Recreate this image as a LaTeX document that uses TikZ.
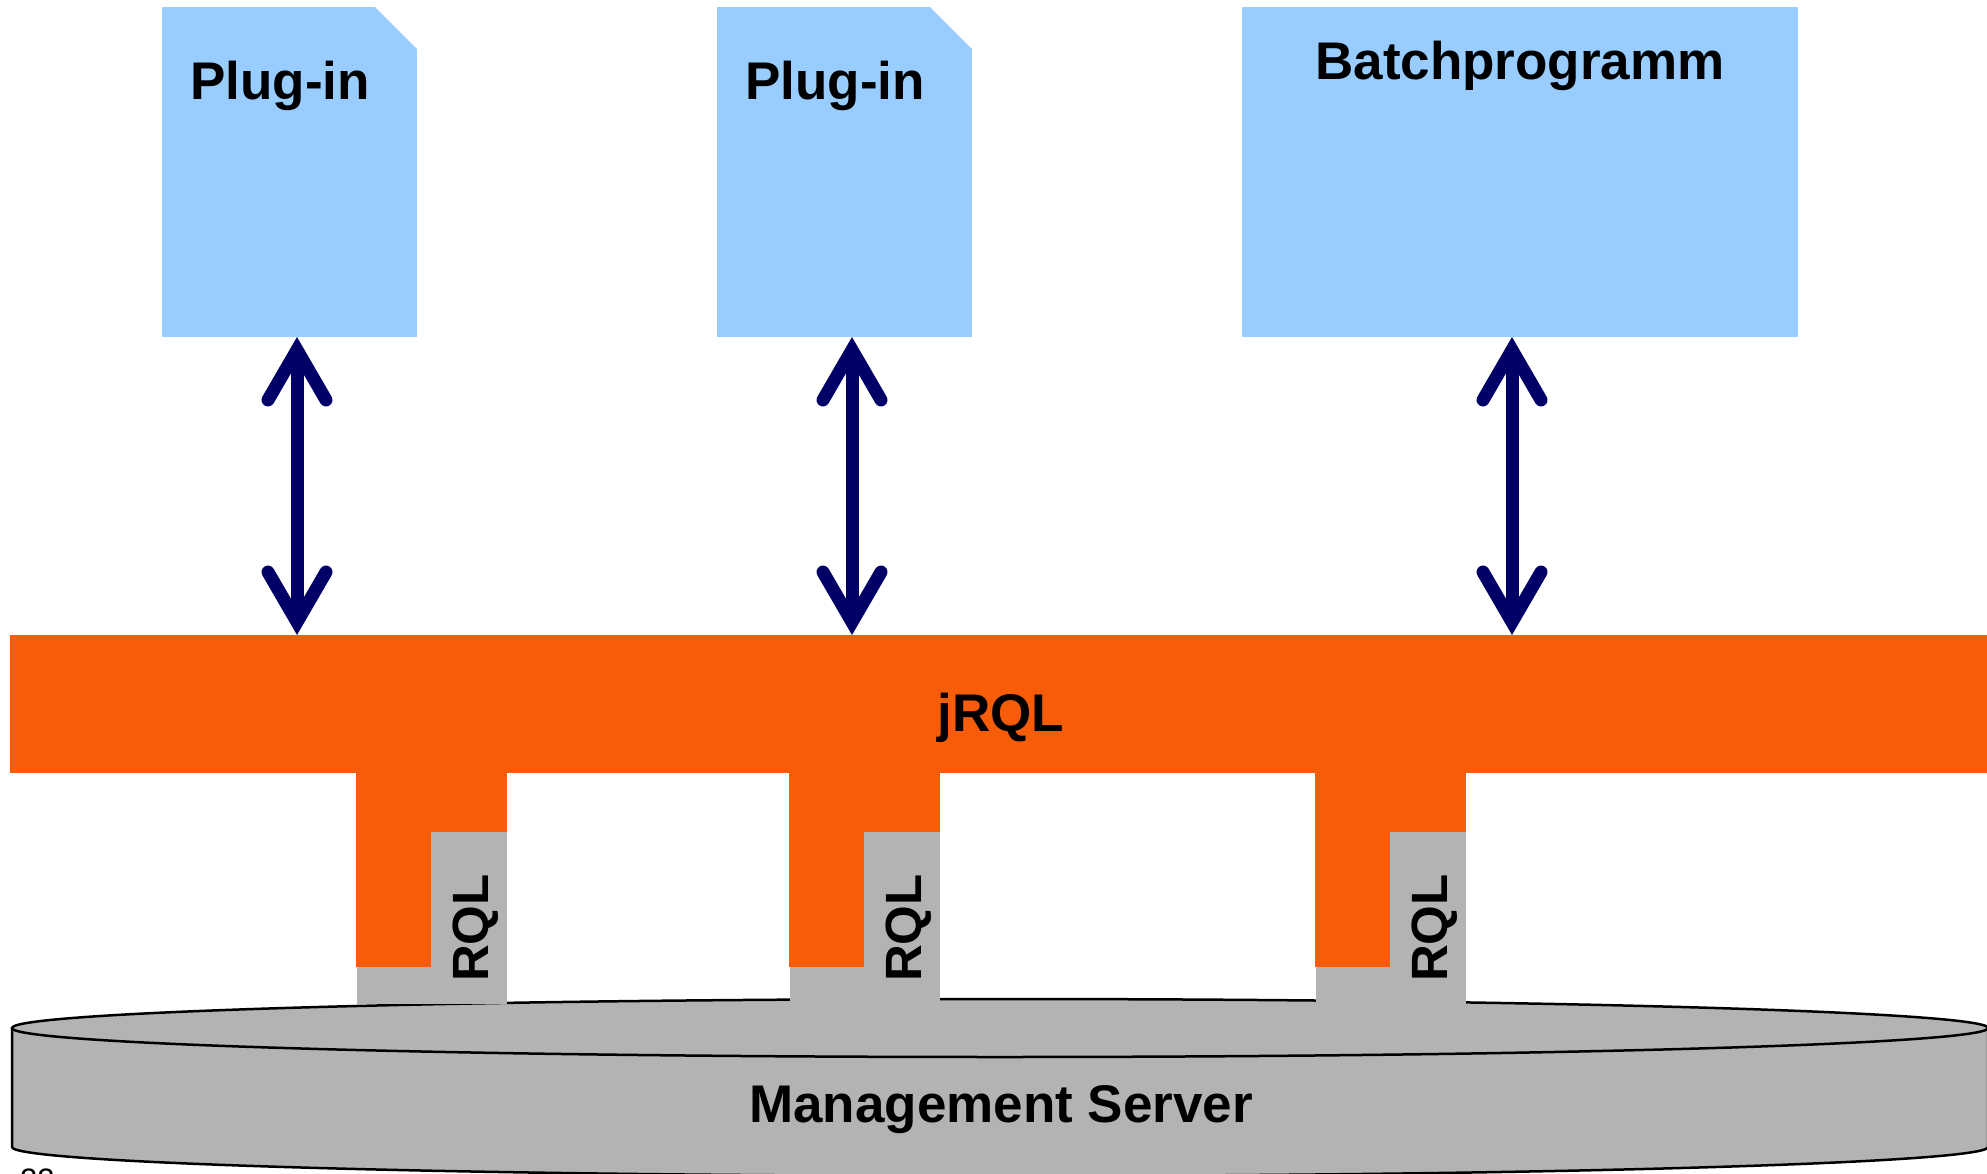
\documentclass[tikz,border=0pt]{standalone}
\usepackage{fontspec}
\setmainfont{Liberation Sans}
\usetikzlibrary{arrows.meta}
\definecolor{plugblue}{RGB}{153,204,255}
\definecolor{jorange}{RGB}{247,92,8}
\definecolor{srvgray}{RGB}{179,179,179}
\definecolor{navyarr}{RGB}{0,0,102}
\tikzset{
  blockbox/.style={fill=plugblue, draw=none, inner sep=0pt, outer sep=0pt},
  lbl/.style={font=\fontsize{53}{60}\selectfont\bfseries, inner sep=0pt},
  rqllbl/.style={font=\fontsize{51}{58}\selectfont\bfseries, inner sep=0pt, rotate=90, anchor=base},
  dblarrow/.style={draw=navyarr, line width=13pt, line cap=round,
    {Straight Barb[length=50pt, width=58pt, line cap=round, line join=miter]}-{Straight Barb[length=50pt, width=58pt, line cap=round, line join=miter]}},
  cyledge/.style={draw=black, line width=2.5pt},
}
\begin{document}
\begin{tikzpicture}[x=1pt, y=-1pt]
\useasboundingbox (0,0) rectangle (1987,1174);
% cylinder (Management Server)
\fill[srvgray] (12,1028) -- (12,1147) arc[start angle=180, end angle=360, x radius=988, y radius=-29] -- (1988,1028) -- cycle;
\draw[cyledge] (12,1028) -- (12,1147) arc[start angle=180, end angle=360, x radius=988, y radius=-29] -- (1988,1028);
\draw[cyledge, fill=srvgray] (1000,1028) ellipse[x radius=988, y radius=29];
\node[lbl, anchor=base] (ms) at (1001,1122) {Management Server};
% top boxes
\node[blockbox, minimum width=255pt, minimum height=330pt] (p1) at (289.5,172) {};
\fill[white] (p1.north east) ++(-42,0) -- ++(42,42) -- ++(1,0) -- ++(0,-43) -- cycle;
\node[blockbox, minimum width=255pt, minimum height=330pt] (p2) at (844.5,172) {};
\fill[white] (p2.north east) ++(-42,0) -- ++(42,42) -- ++(1,0) -- ++(0,-43) -- cycle;
\node[blockbox, minimum width=556pt, minimum height=330pt] (bp) at (1520,172) {};
\node[lbl, anchor=base west] (t1) at (190,100) {Plug-in};
\node[lbl, anchor=base west] (t2) at (745,100) {Plug-in};
\node[lbl, anchor=base] (t3) at (1520,80) {Batchprogramm};
% jRQL bar
\node[fill=jorange, inner sep=0pt, outer sep=0pt, minimum width=1977pt, minimum height=138pt] (bar) at (998.5,704) {};
\node[lbl, anchor=base] (jr) at (1001,731) {jRQL};
% stubs
\foreach \sx/\nm in {356/s1, 789/s2, 1315/s3}{
  \fill[jorange] (\sx,772) rectangle ++(151,60);
  \fill[jorange] (\sx,832) rectangle ++(75,135);
  \fill[srvgray] (\sx+75,832) rectangle ++(76,172);
  \fill[srvgray] (\sx+1,967) rectangle ++(75,37);
  \node[rqllbl] (\nm) at (\sx+132,928) {RQL};
}
% arrows
\coordinate (a1) at (297,0);
\coordinate (a2) at (852,0);
\coordinate (a3) at (1512,0);
\draw[dblarrow] (a1 |- p1.south) -- (a1 |- bar.north);
\draw[dblarrow] (a2 |- p2.south) -- (a2 |- bar.north);
\draw[dblarrow] (a3 |- bp.south) -- (a3 |- bar.north);
% page number
\node[font=\fontsize{31}{36}\selectfont, inner sep=0pt, anchor=base west] (pg) at (20,1190) {22};
\end{tikzpicture}
\end{document}
